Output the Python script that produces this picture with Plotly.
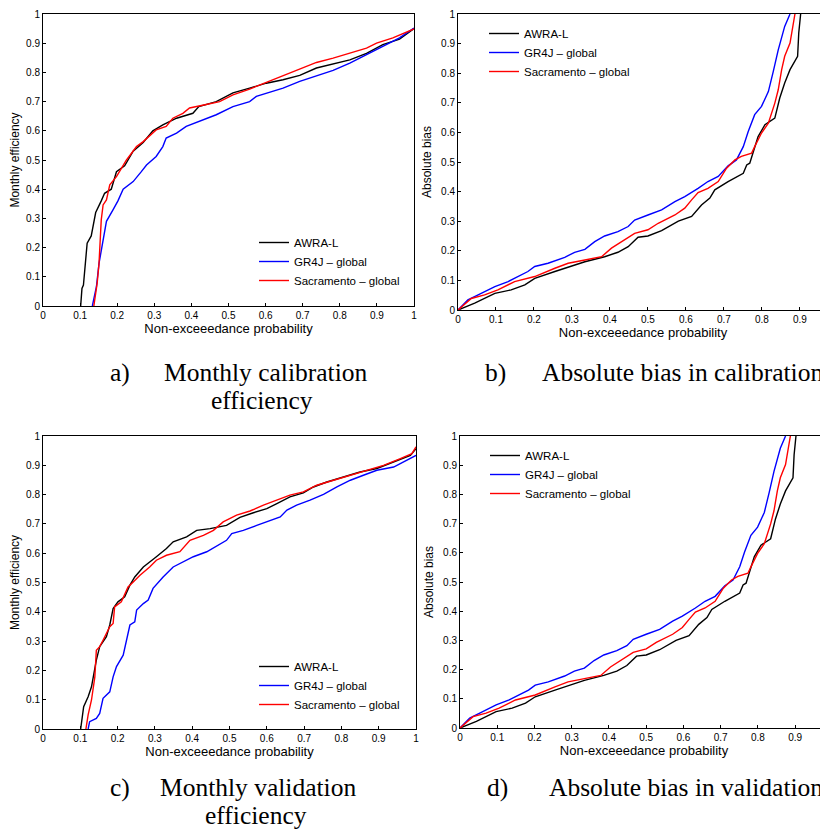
import plotly.graph_objects as go

# ---------------- data ----------------
names = ["AWRA-L", "GR4J \u2013 global", "Sacramento \u2013 global"]
colors = ["#000000", "#0000ff", "#ff0000"]

# a) Monthly calibration efficiency
a_awra_x = [0.1015, 0.105, 0.109, 0.119, 0.13, 0.142, 0.157, 0.166, 0.184, 0.198, 0.22, 0.243, 0.27, 0.296, 0.323, 0.36, 0.404, 0.42, 0.467, 0.512, 0.557, 0.602, 0.647, 0.692, 0.737, 0.782, 0.827, 0.872, 0.916, 0.961, 1.0]
a_awra_y = [0.0, 0.06, 0.072, 0.215, 0.24, 0.32, 0.36, 0.386, 0.40, 0.46, 0.48, 0.53, 0.56, 0.60, 0.62, 0.643, 0.66, 0.683, 0.70, 0.73, 0.746, 0.763, 0.775, 0.79, 0.815, 0.83, 0.843, 0.865, 0.895, 0.914, 0.95]
a_gr4j_x = [0.133, 0.144, 0.151, 0.16, 0.171, 0.189, 0.202, 0.216, 0.243, 0.265, 0.279, 0.305, 0.323, 0.332, 0.36, 0.386, 0.422, 0.467, 0.512, 0.557, 0.575, 0.602, 0.647, 0.692, 0.737, 0.782, 0.827, 0.872, 0.916, 0.961, 1.0]
a_gr4j_y = [0.0, 0.066, 0.146, 0.21, 0.29, 0.33, 0.36, 0.40, 0.426, 0.46, 0.483, 0.512, 0.546, 0.575, 0.592, 0.615, 0.632, 0.655, 0.683, 0.70, 0.718, 0.729, 0.746, 0.769, 0.789, 0.807, 0.832, 0.861, 0.889, 0.918, 0.952]
a_sac_x = [0.137, 0.146, 0.151, 0.157, 0.162, 0.171, 0.18, 0.198, 0.225, 0.252, 0.27, 0.305, 0.332, 0.35, 0.377, 0.395, 0.44, 0.476, 0.512, 0.557, 0.602, 0.647, 0.692, 0.737, 0.782, 0.827, 0.872, 0.899, 0.943, 1.0]
a_sac_y = [0.0, 0.078, 0.146, 0.295, 0.346, 0.363, 0.415, 0.443, 0.50, 0.546, 0.563, 0.603, 0.615, 0.643, 0.66, 0.678, 0.69, 0.70, 0.723, 0.743, 0.766, 0.789, 0.811, 0.834, 0.849, 0.866, 0.883, 0.90, 0.918, 0.949]

# b) Absolute bias in calibration
b_awra_x = [0.0, 0.044, 0.097, 0.14, 0.176, 0.202, 0.255, 0.298, 0.334, 0.386, 0.421, 0.448, 0.474, 0.50, 0.536, 0.58, 0.615, 0.641, 0.663, 0.676, 0.711, 0.751, 0.76, 0.768, 0.79, 0.808, 0.834, 0.847, 0.86, 0.874, 0.887, 0.894, 0.897, 0.902]
b_awra_y = [0.0, 0.023, 0.056, 0.068, 0.085, 0.107, 0.13, 0.147, 0.163, 0.18, 0.195, 0.214, 0.246, 0.25, 0.268, 0.30, 0.316, 0.355, 0.378, 0.406, 0.434, 0.462, 0.49, 0.496, 0.586, 0.626, 0.648, 0.716, 0.767, 0.812, 0.84, 0.857, 0.936, 1.0]
b_gr4j_x = [0.0, 0.026, 0.053, 0.097, 0.132, 0.149, 0.184, 0.202, 0.237, 0.281, 0.307, 0.334, 0.36, 0.386, 0.421, 0.448, 0.465, 0.50, 0.536, 0.571, 0.597, 0.632, 0.658, 0.685, 0.711, 0.733, 0.751, 0.764, 0.781, 0.799, 0.817, 0.83, 0.843, 0.86, 0.874]
b_gr4j_y = [0.0, 0.034, 0.051, 0.079, 0.096, 0.107, 0.13, 0.147, 0.158, 0.178, 0.195, 0.205, 0.231, 0.25, 0.265, 0.282, 0.304, 0.321, 0.338, 0.366, 0.383, 0.411, 0.434, 0.451, 0.487, 0.507, 0.552, 0.603, 0.66, 0.688, 0.738, 0.806, 0.879, 0.958, 1.0]
b_sac_x = [0.0, 0.035, 0.07, 0.105, 0.149, 0.202, 0.255, 0.29, 0.334, 0.378, 0.404, 0.439, 0.465, 0.50, 0.527, 0.571, 0.597, 0.615, 0.632, 0.658, 0.685, 0.707, 0.729, 0.746, 0.773, 0.781, 0.799, 0.817, 0.834, 0.843, 0.852, 0.86, 0.874, 0.887]
b_sac_y = [0.0, 0.039, 0.051, 0.068, 0.096, 0.113, 0.141, 0.158, 0.169, 0.18, 0.209, 0.239, 0.259, 0.271, 0.293, 0.321, 0.344, 0.372, 0.397, 0.411, 0.434, 0.479, 0.507, 0.519, 0.53, 0.552, 0.598, 0.631, 0.699, 0.744, 0.812, 0.857, 0.902, 1.0]

# c) Monthly validation efficiency
c_awra_x = [0.101, 0.109, 0.121, 0.13, 0.143, 0.152, 0.17, 0.179, 0.188, 0.201, 0.219, 0.233, 0.246, 0.269, 0.304, 0.331, 0.349, 0.385, 0.412, 0.448, 0.492, 0.528, 0.564, 0.60, 0.627, 0.662, 0.698, 0.725, 0.761, 0.806, 0.85, 0.895, 0.94, 0.985, 1.0]
c_awra_y = [0.0, 0.076, 0.11, 0.144, 0.235, 0.281, 0.315, 0.355, 0.411, 0.434, 0.451, 0.491, 0.519, 0.553, 0.588, 0.616, 0.639, 0.656, 0.678, 0.684, 0.695, 0.722, 0.738, 0.752, 0.769, 0.792, 0.806, 0.826, 0.843, 0.86, 0.877, 0.889, 0.911, 0.934, 0.957]
c_gr4j_x = [0.121, 0.125, 0.143, 0.152, 0.161, 0.179, 0.188, 0.197, 0.215, 0.224, 0.233, 0.246, 0.251, 0.269, 0.282, 0.295, 0.322, 0.349, 0.376, 0.403, 0.439, 0.474, 0.492, 0.506, 0.537, 0.573, 0.609, 0.636, 0.654, 0.68, 0.716, 0.752, 0.788, 0.824, 0.859, 0.895, 0.94, 0.976, 1.0]
c_gr4j_y = [0.0, 0.025, 0.036, 0.053, 0.105, 0.127, 0.178, 0.213, 0.252, 0.303, 0.355, 0.366, 0.406, 0.428, 0.44, 0.48, 0.519, 0.553, 0.57, 0.588, 0.605, 0.631, 0.644, 0.667, 0.678, 0.695, 0.713, 0.724, 0.747, 0.764, 0.781, 0.801, 0.826, 0.849, 0.866, 0.883, 0.894, 0.917, 0.934]
c_sac_x = [0.115, 0.121, 0.13, 0.139, 0.143, 0.152, 0.161, 0.179, 0.188, 0.192, 0.21, 0.228, 0.242, 0.26, 0.286, 0.304, 0.331, 0.367, 0.394, 0.43, 0.457, 0.483, 0.519, 0.555, 0.591, 0.627, 0.662, 0.698, 0.734, 0.779, 0.824, 0.868, 0.913, 0.958, 0.989, 1.0]
c_sac_y = [0.0, 0.048, 0.099, 0.178, 0.269, 0.281, 0.303, 0.349, 0.36, 0.417, 0.434, 0.485, 0.502, 0.525, 0.553, 0.576, 0.593, 0.605, 0.644, 0.661, 0.678, 0.707, 0.73, 0.744, 0.764, 0.781, 0.798, 0.809, 0.832, 0.849, 0.866, 0.885, 0.90, 0.923, 0.94, 0.963]

# d) Absolute bias in validation (appears identical to b in the reference)
d_awra_x, d_awra_y = b_awra_x, b_awra_y
d_gr4j_x, d_gr4j_y = b_gr4j_x, b_gr4j_y
d_sac_x, d_sac_y = b_sac_x, b_sac_y

x_ticks = [0, 0.1, 0.2, 0.3, 0.4, 0.5, 0.6, 0.7, 0.8, 0.9, 1]
x_ticklabels = ["0", "0.1", "0.2", "0.3", "0.4", "0.5", "0.6", "0.7", "0.8", "0.9", "1"]
y_ticks = [0, 0.1, 0.2, 0.3, 0.4, 0.5, 0.6, 0.7, 0.8, 0.9, 1]
y_ticklabels = ["0", "0.1", "0.2", "0.3", "0.4", "0.5", "0.6", "0.7", "0.8", "0.9", "1"]

x_title = "Non-exceeedance probability"
captions = [
    ("a)", "Monthly calibration", "efficiency"),
    ("b)", "Absolute bias in calibration", None),
    ("c)", "Monthly validation", "efficiency"),
    ("d)", "Absolute bias in validation", None),
]
y_titles = ["Monthly efficiency", "Absolute bias", "Monthly efficiency", "Absolute bias"]

panels = [
    [(a_awra_x, a_awra_y), (a_gr4j_x, a_gr4j_y), (a_sac_x, a_sac_y)],
    [(b_awra_x, b_awra_y), (b_gr4j_x, b_gr4j_y), (b_sac_x, b_sac_y)],
    [(c_awra_x, c_awra_y), (c_gr4j_x, c_gr4j_y), (c_sac_x, c_sac_y)],
    [(d_awra_x, d_awra_y), (d_gr4j_x, d_gr4j_y), (d_sac_x, d_sac_y)],
]

# ---------------- layout geometry (screen pixels) ----------------
OFF = 8                      # page body margin of the html page
W, H = 828 - OFF, 832 - OFF
def px(x):
    return (x - OFF) / W
def py(y):
    return 1 - (y - OFF) / H

# (left, right, top, bottom) in screen pixels, x-range max, mirror y
geo = [
    (43, 414, 14, 306, 1.0, True),
    (458, 828, 14, 310, 0.974, False),
    (43, 416, 436, 729, 1.0, True),
    (460, 828, 436, 728, 0.988, False),
]
legend_pos = [(254, 228), (484, 19), (254, 652), (485, 441)]

FONT = "Liberation Sans, Arial, sans-serif"
SERIF = "Liberation Serif, Times New Roman, serif"
CAP = 25.5

fig = go.Figure()
layout = dict(
    width=W, height=H,
    margin=dict(l=0, r=0, t=0, b=0, autoexpand=False),
    paper_bgcolor="white", plot_bgcolor="white",
    font=dict(family=FONT, size=10, color="black"),
    annotations=[],
)

for i, series in enumerate(panels):
    sfx = "" if i == 0 else str(i + 1)
    leg = "legend" if i == 0 else "legend" + str(i + 1)
    for j, (xs, ys) in enumerate(series):
        fig.add_trace(go.Scatter(
            x=xs, y=ys, mode="lines", name=names[j],
            line=dict(color=colors[j], width=1.4),
            xaxis="x" + sfx, yaxis="y" + sfx, legend=leg,
            showlegend=True,
        ))
    l, r, t, b, xmax, mir = geo[i]
    layout["xaxis" + sfx] = dict(
        domain=[px(l), px(r)], range=[0, xmax], anchor="y" + sfx,
        tickvals=x_ticks, ticktext=x_ticklabels,
        ticks="inside", ticklen=3, tickcolor="black",
        showline=True, linecolor="black", linewidth=1, mirror=True,
        showgrid=False, zeroline=False,
        tickfont=dict(size=10, family=FONT), ticklabelstandoff=0,
        title=dict(text=x_title, font=dict(size=13, family=FONT), standoff=0),
    )
    layout["yaxis" + sfx] = dict(
        domain=[py(b), py(t)], range=[0, 1], anchor="x" + sfx,
        tickvals=y_ticks, ticktext=y_ticklabels,
        ticks="inside", ticklen=3, tickcolor="black",
        showline=True, linecolor="black", linewidth=1, mirror=mir,
        showgrid=False, zeroline=False,
        tickfont=dict(size=10, family=FONT),
        title=dict(text=y_titles[i], font=dict(size=12, family=FONT), standoff=6),
    )
    lx, ly = legend_pos[i]
    layout[leg] = dict(
        x=px(lx), y=py(ly), xanchor="left", yanchor="top",
        bgcolor="rgba(0,0,0,0)", font=dict(size=11.5, family=FONT),
        tracegroupgap=0, itemwidth=30,
    )

# captions: (label x, line-1 x, line-1 anchor, line-1 y, line-2 centre x, line-2 y)
cap_geo = [
    (108, 266, "center", 372, 262, 401),
    (483, 825, "right", 372, None, None),
    (108, 258, "center", 787, 256, 815),
    (485, 825, "right", 787, None, None),
]
for (lab, l1, l2), (xl, x1, anc1, y1, xc2, y2) in zip(captions, cap_geo):
    layout["annotations"].append(dict(
        text=lab, x=px(xl), y=py(y1), xref="paper", yref="paper",
        xanchor="left", yanchor="middle", showarrow=False,
        font=dict(family=SERIF, size=CAP, color="black")))
    layout["annotations"].append(dict(
        text=l1, x=px(x1), y=py(y1), xref="paper", yref="paper",
        xanchor=anc1, yanchor="middle", showarrow=False,
        font=dict(family=SERIF, size=CAP, color="black")))
    if l2:
        layout["annotations"].append(dict(
            text=l2, x=px(xc2), y=py(y2), xref="paper", yref="paper",
            xanchor="center", yanchor="middle", showarrow=False,
            font=dict(family=SERIF, size=CAP, color="black")))

fig.update_layout(**layout)
fig.write_html("out.html")
